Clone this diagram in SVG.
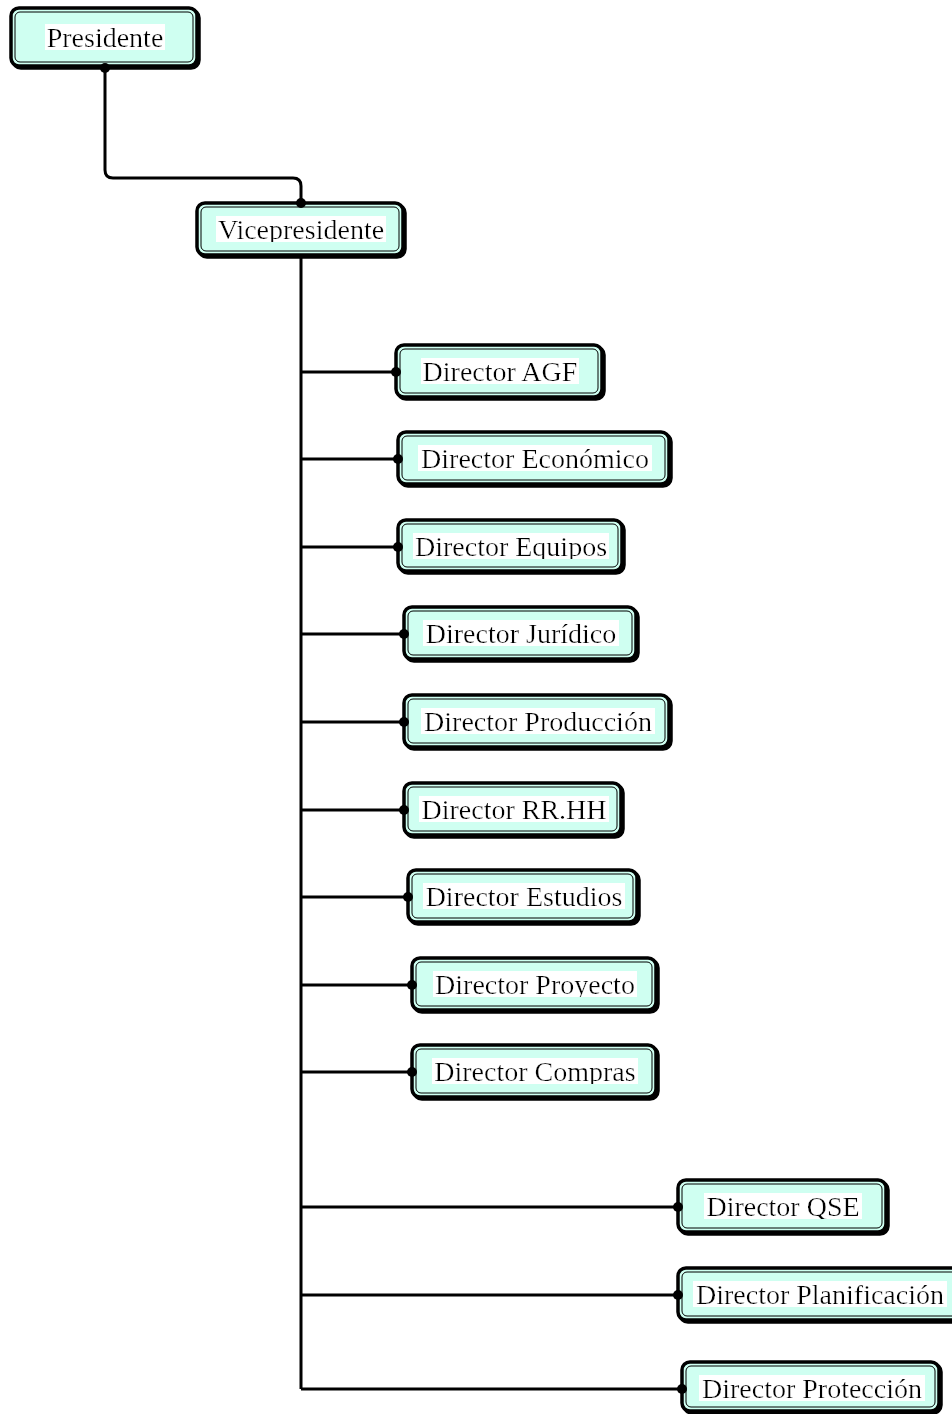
<svg xmlns="http://www.w3.org/2000/svg" width="952" height="1414" viewBox="0 0 952 1414">
  <style>
    .shadow { fill: none; stroke: #000; stroke-width: 3.5; }
    .box { fill: #cffff1; stroke: #000; stroke-width: 3.5; }
    .inner { fill: none; stroke: #000; stroke-width: 1; }
    .label { font-family: "Liberation Serif", "Times New Roman", serif; font-size: 28px; fill: #000; text-anchor: middle; filter: url(#textbg); }
    .wire { fill: none; stroke: #000; stroke-width: 3; }
    .dot { fill: #000; }
  </style>
  <defs>
    <!-- white band behind each label, sized from the text's own box -->
    <filter id="textbg" x="-0.01" y="0.09" width="1.02" height="0.8">
      <feFlood flood-color="#ffffff"/>
      <feComposite in="SourceGraphic"/>
    </filter>
  </defs>
  <rect width="952" height="1414" fill="#ffffff"/>

  <g id="presidente">
    <rect class="shadow" x="13" y="10" width="186" height="58" rx="8"/>
    <rect class="box" x="11" y="8" width="186" height="58" rx="8"/>
    <rect class="inner" x="15" y="12" width="178" height="50" rx="5"/>
    <text class="label" x="105" y="47">Presidente</text>
  </g>

  <g id="vicepresidente">
    <rect class="shadow" x="199" y="205" width="206" height="52" rx="8"/>
    <rect class="box" x="197" y="203" width="206" height="52" rx="8"/>
    <rect class="inner" x="201" y="207" width="198" height="44" rx="5"/>
    <text class="label" x="301" y="239">Vicepresidente</text>
  </g>

  <g id="director-agf">
    <rect class="shadow" x="398" y="347" width="206" height="52" rx="8"/>
    <rect class="box" x="396" y="345" width="206" height="52" rx="8"/>
    <rect class="inner" x="400" y="349" width="198" height="44" rx="5"/>
    <text class="label" x="500" y="381">Director AGF</text>
  </g>

  <g id="director-economico">
    <rect class="shadow" x="400" y="434" width="271" height="52" rx="8"/>
    <rect class="box" x="398" y="432" width="271" height="52" rx="8"/>
    <rect class="inner" x="402" y="436" width="263" height="44" rx="5"/>
    <text class="label" x="535" y="468">Director Económico</text>
  </g>

  <g id="director-equipos">
    <rect class="shadow" x="400" y="522" width="224" height="51" rx="8"/>
    <rect class="box" x="398" y="520" width="224" height="51" rx="8"/>
    <rect class="inner" x="402" y="524" width="216" height="43" rx="5"/>
    <text class="label" x="511" y="556">Director Equipos</text>
  </g>

  <g id="director-juridico">
    <rect class="shadow" x="406" y="609" width="232" height="52" rx="8"/>
    <rect class="box" x="404" y="607" width="232" height="52" rx="8"/>
    <rect class="inner" x="408" y="611" width="224" height="44" rx="5"/>
    <text class="label" x="521" y="643">Director Jurídico</text>
  </g>

  <g id="director-produccion">
    <rect class="shadow" x="406" y="697" width="265" height="52" rx="8"/>
    <rect class="box" x="404" y="695" width="265" height="52" rx="8"/>
    <rect class="inner" x="408" y="699" width="257" height="44" rx="5"/>
    <text class="label" x="538" y="731">Director Producción</text>
  </g>

  <g id="director-rrhh">
    <rect class="shadow" x="406" y="785" width="217" height="52" rx="8"/>
    <rect class="box" x="404" y="783" width="217" height="52" rx="8"/>
    <rect class="inner" x="408" y="787" width="209" height="44" rx="5"/>
    <text class="label" x="514" y="819">Director RR.HH</text>
  </g>

  <g id="director-estudios">
    <rect class="shadow" x="410" y="872" width="229" height="52" rx="8"/>
    <rect class="box" x="408" y="870" width="229" height="52" rx="8"/>
    <rect class="inner" x="412" y="874" width="221" height="44" rx="5"/>
    <text class="label" x="524" y="906">Director Estudios</text>
  </g>

  <g id="director-proyecto">
    <rect class="shadow" x="414" y="960" width="244" height="52" rx="8"/>
    <rect class="box" x="412" y="958" width="244" height="52" rx="8"/>
    <rect class="inner" x="416" y="962" width="236" height="44" rx="5"/>
    <text class="label" x="535" y="994">Director Proyecto</text>
  </g>

  <g id="director-compras">
    <rect class="shadow" x="414" y="1047" width="244" height="52" rx="8"/>
    <rect class="box" x="412" y="1045" width="244" height="52" rx="8"/>
    <rect class="inner" x="416" y="1049" width="236" height="44" rx="5"/>
    <text class="label" x="535" y="1081">Director Compras</text>
  </g>

  <g id="director-qse">
    <rect class="shadow" x="680" y="1182" width="208" height="52" rx="8"/>
    <rect class="box" x="678" y="1180" width="208" height="52" rx="8"/>
    <rect class="inner" x="682" y="1184" width="200" height="44" rx="5"/>
    <text class="label" x="783" y="1216">Director QSE</text>
  </g>

  <g id="director-planificacion">
    <rect class="shadow" x="680" y="1270" width="283" height="52" rx="8"/>
    <rect class="box" x="678" y="1268" width="283" height="52" rx="8"/>
    <rect class="inner" x="682" y="1272" width="275" height="44" rx="5"/>
    <text class="label" x="820" y="1304">Director Planificación</text>
  </g>

  <g id="director-proteccion">
    <rect class="shadow" x="684" y="1364" width="257" height="49" rx="8"/>
    <rect class="box" x="682" y="1362" width="257" height="49" rx="8"/>
    <rect class="inner" x="686" y="1366" width="249" height="41" rx="5"/>
    <text class="label" x="812" y="1398">Director Protección</text>
  </g>

  <!-- drawn last so the junction dots sit on top of the box borders -->
  <g id="connectors">
    <path class="wire" d="M105 68 V170 Q105 178 113 178 H293 Q301 178 301 186 V203"/>
    <path class="wire" d="M301 257 V1389"/>
    <path class="wire" d="M301 372 H396 M301 459 H398 M301 547 H398 M301 634 H404 M301 722 H404 M301 810 H404 M301 897 H408 M301 985 H412 M301 1072 H412 M301 1207 H678 M301 1295 H678 M301 1389 H682"/>
    <circle class="dot" cx="105" cy="68" r="5"/>
    <circle class="dot" cx="301" cy="203" r="5"/>
    <circle class="dot" cx="396" cy="372" r="5"/>
    <circle class="dot" cx="398" cy="459" r="5"/>
    <circle class="dot" cx="398" cy="547" r="5"/>
    <circle class="dot" cx="404" cy="634" r="5"/>
    <circle class="dot" cx="404" cy="722" r="5"/>
    <circle class="dot" cx="404" cy="810" r="5"/>
    <circle class="dot" cx="408" cy="897" r="5"/>
    <circle class="dot" cx="412" cy="985" r="5"/>
    <circle class="dot" cx="412" cy="1072" r="5"/>
    <circle class="dot" cx="678" cy="1207" r="5"/>
    <circle class="dot" cx="678" cy="1295" r="5"/>
    <circle class="dot" cx="682" cy="1389" r="5"/>
  </g>
</svg>
